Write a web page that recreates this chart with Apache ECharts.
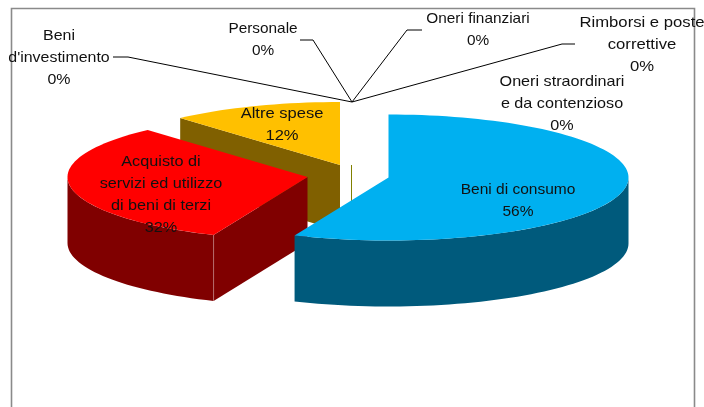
<!DOCTYPE html>
<html><head><meta charset="utf-8">
<style>html,body{margin:0;padding:0;background:#fff}#c{width:704px;height:407px}</style>
<script src="https://cdn.jsdelivr.net/npm/echarts@6/dist/echarts.min.js"></script>
</head><body><div id="c"></div>
<script>
const categories = ["Beni di consumo","Acquisto di\nservizi ed utilizzo\ndi beni di terzi","Altre spese","Oneri straordinari\ne da contenzioso","Rimborsi e poste\ncorrettive","Oneri finanziari","Personale","Beni\nd'investimento"];
const values = [56.4,32,11.6,0,0,0,0,0];
const topColors = ["#00B0F0","#FF0000","#FFC000","#808000","#808000","#808000","#808000","#808000"];
const wallColors = ["#005A7C","#800000","#806000","#808000","#808000","#808000","#808000","#808000"];

// layout only
const RX = 240, RY = 63, DEPTH = 66;
const centers = [[388.5,177.5],[307.5,177],[340,165],[352,165],[352,165],[352,165],[352,165],[352,165]];
const labelPos = [[518,201],[161,195],[282,125],[562,104],[642,45],[478,30],[263,40],[59,58]];
const labelStretch = [1.07,1.12,1.14,1.115,1.15,1.06,1.06,1.1];
const leaderElbow = [null,null,null,null,[562,44],[407,30],[313,40],[128,57]];
const leaderEnd = [null,null,null,null,[575,44],[422,30],[300,40],[113,57]];
const drawOrder = [7,6,5,4,3,2,1,0];

const total = values.reduce((a,b)=>a+b,0);
let acc = 0;
const spans = values.map(v=>{const a0=acc/total*360; acc+=v; return [a0,acc/total*360];});
const rad = d=>d*Math.PI/180;
function rim(i,a,dy){const c=centers[i];return [c[0]+RX*Math.sin(rad(a)),c[1]-RY*Math.cos(rad(a))+(dy||0)];}
function arc(i,a0,a1,dy){const p=[];const n=Math.max(2,Math.ceil(Math.abs(a1-a0)/2));for(let k=0;k<=n;k++)p.push(rim(i,a0+(a1-a0)*k/n,dy));return p;}

function renderSlice(params){
  const i = drawOrder[params.dataIndex];
  const [a0,a1] = spans[i], c = centers[i], kids = [];
  const wall = wallColors[i], top = topColors[i];
  if(values[i]===0){
    kids.push({type:'line',shape:{x1:c[0]-0.5,y1:c[1],x2:c[0]-0.5,y2:c[1]+DEPTH},style:{stroke:wall,lineWidth:1}});
    return {type:'group',children:kids};
  }
  const face=(a)=>{const r=rim(i,a);return [[c[0],c[1]],r,[r[0],r[1]+DEPTH],[c[0],c[1]+DEPTH]];};
  if(Math.cos(rad(a0-90))<-1e-6) kids.push({type:'polygon',shape:{points:face(a0)},style:{fill:wall}});
  if(Math.cos(rad(a1+90))<-1e-6) kids.push({type:'polygon',shape:{points:face(a1)},style:{fill:wall}});
  const w0=Math.max(a0,90), w1=Math.min(a1,270);
  if(w1>w0){
    const pts=arc(i,w0,w1,0).concat(arc(i,w1,w0,DEPTH));
    kids.push({type:'polygon',shape:{points:pts},style:{fill:wall}});
  }
  kids.push({type:'polygon',shape:{points:[[c[0],c[1]]].concat(arc(i,a0,a1,0))},style:{fill:top}});
  if(i===1){const r=rim(i,a0);kids.push({type:'line',shape:{x1:r[0],y1:r[1],x2:r[0],y2:r[1]+DEPTH},style:{stroke:'#b56a6a',lineWidth:1}});}
  return {type:'group',children:kids};
}
function renderLabel(params){
  const i=params.dataIndex, kids=[];
  if(leaderElbow[i]){
    const start=rim(i,spans[i][0]);
    kids.push({type:'polyline',shape:{points:[leaderEnd[i],leaderElbow[i],start]},style:{stroke:'#000',lineWidth:1,fill:null}});
  }
  kids.push({type:'text',x:labelPos[i][0],y:labelPos[i][1],scaleX:labelStretch[i],style:{
    text:categories[i]+"\n"+Math.round(values[i]/total*100)+"%",
    font:'14.5px "Liberation Sans", Arial, sans-serif',lineHeight:22,fill:'#111',align:'center',verticalAlign:'middle'}});
  return {type:'group',children:kids};
}
const chart=echarts.init(document.getElementById('c'),null,{renderer:'canvas'});
chart.setOption({
  animation:false,
  backgroundColor:'#fff',
  graphic:[{type:'rect',silent:true,z:-1,shape:{x:11.5,y:8.5,width:683,height:420},style:{fill:'#fff',stroke:'#8a8a8a',lineWidth:1.6}}],
  series:[
    {type:'custom',coordinateSystem:'none',silent:true,z:2,data:drawOrder.map(i=>values[i]),renderItem:renderSlice},
    {type:'custom',coordinateSystem:'none',silent:true,z:3,data:values,renderItem:renderLabel}
  ]
});
</script></body></html>
